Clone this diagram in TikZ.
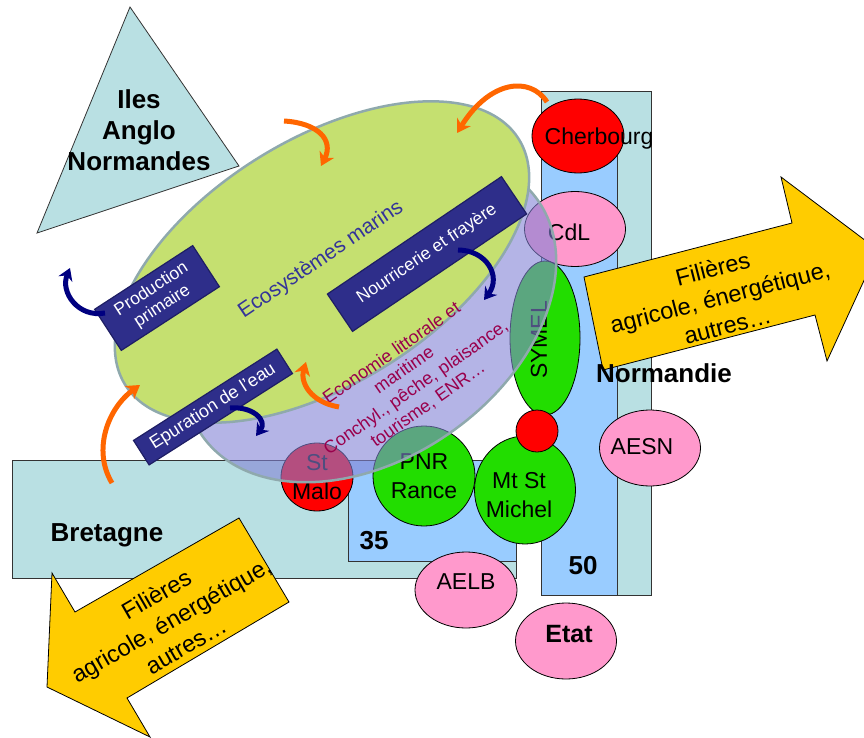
\documentclass[tikz,border=0pt]{standalone}
\usepackage{fontspec}
\setmainfont{Liberation Sans}
\usetikzlibrary{shapes.geometric,arrows.meta}
\definecolor{cyanpale}{RGB}{185,224,227}
\definecolor{bleudep}{RGB}{153,204,255}
\definecolor{vertmer}{RGB}{197,224,112}
\definecolor{bordmer}{RGB}{143,169,173}
\definecolor{lavande}{RGB}{130,130,213}
\definecolor{marine}{RGB}{46,46,138}
\definecolor{marinebord}{RGB}{30,30,100}
\definecolor{vertvif}{RGB}{34,221,0}
\definecolor{rose}{RGB}{255,153,204}
\definecolor{jaune}{RGB}{255,204,0}
\definecolor{orangeflux}{RGB}{255,102,0}
\definecolor{navyflux}{RGB}{0,0,128}
\definecolor{bordeaux}{RGB}{153,0,76}
\definecolor{bleutexte}{RGB}{51,51,153}
\begin{document}
\begin{tikzpicture}[x=1pt,y=-1pt]
				\tikzstyle{Zone} = [draw=black!80, line width=0.8, fill=cyanpale]
				\tikzstyle{Dept} = [draw=black!80, line width=0.8, fill=bleudep]
				\tikzstyle{Filiere} = [draw, line width=0.8, fill=jaune]
				\tikzstyle{Titre} = [inner sep=0pt, align=center, font=\bfseries\fontsize{26}{31}\selectfont]
				\tikzstyle{Acteur} = [ellipse, draw, line width=0.8, inner sep=0pt]
				\tikzstyle{Nom} = [inner sep=0pt, align=center, font=\fontsize{23}{29}\selectfont]
				\tikzstyle{Milieu} = [ellipse, draw=bordmer, line width=2.5, inner sep=0pt]
				\tikzstyle{Fonction} = [draw=marinebord, line width=1.2, fill=marine, text=white, inner sep=0pt, align=center]
				\tikzstyle{Apport} = [draw=orangeflux, line width=5, -{Stealth[length=13pt,width=16pt,inset=4pt]}]
				\tikzstyle{Retour} = [draw=navyflux, line width=5, -{Stealth[length=12pt,width=15pt,inset=4pt]}]
				\useasboundingbox (0,0) rectangle (864,738);
				\clip (0,0) rectangle (864,738);
				% territoires
				\draw [Zone] (130,7) -- (239,166) -- (37,233) -- cycle;
				\node (iles) at (139,130) [Titre] {Iles\\Anglo\\Normandes};
				\draw [Zone] (12,460) rectangle (516,578);
				\draw [Dept] (348,460) rectangle (516,561);
				\draw [Zone] (541,91) rectangle (651,595);
				\draw [Dept] (541,130) rectangle (617,595);
				\node (bretagne) at (107,535) [Titre] {Bretagne};
				\node (d35) at (374,541) [Titre] {35};
				\node (d50) at (583,566) [Titre] {50};
				% filieres
				\draw [Filiere] (584,277) -- (792,223) -- (781,177) -- (878,250) -- (827,361) -- (815,315) -- (603,370) -- cycle;
				\node (filnord) at (720,297) [Nom, rotate=14.5, font=\fontsize{23.5}{29.5}\selectfont] {Filières\\agricole, énergétique,\\autres…};
				\draw [Filiere] (239,518) -- (289,602) -- (127,698) -- (150,737) -- (47,687) -- (52,573) -- (75,612) -- cycle;
				\node (filsud) at (171,620) [Nom, rotate=30, font=\fontsize{23.5}{29.5}\selectfont] {Filières\\agricole, énergétique,\\autres…};
				\node (normandie) at (664,373) [Titre] {Normandie};
				% acteurs
				\node (cherbourg) at (578,136) [Acteur, fill=red, minimum width=92, minimum height=74] {};
				\node (cherbourgtxt) at (599,139) [Nom] {Cherbourg};
				\node (cdl) at (575,229) [Acteur, fill=rose, minimum width=101, minimum height=75] {};
				\node (cdltxt) at (569,232) [Nom] {CdL};
				\node (symel) at (545,338) [Acteur, fill=vertvif, minimum width=70, minimum height=154] {};
				\node (symeltxt) at (539,340) [Nom, rotate=90] {SYMEL};
				\node (mtstmichel) at (525,490) [Acteur, fill=vertvif, minimum width=101, minimum height=108] {};
				\node (mtstmicheltxt) at (519,495) [Nom] {Mt St\\Michel};
				\node (baie) at (537,431) [Acteur, fill=red, minimum size=42] {};
				\node (pnr) at (424,476) [Acteur, fill=vertvif, minimum width=102, minimum height=100, Nom] {PNR\\Rance};
				\node (stmalo) at (317,477) [Acteur, fill=red, minimum width=72, minimum height=68, Nom] {St\\Malo};
				\node (aelb) at (466,590) [Acteur, fill=rose, minimum width=102, minimum height=76] {};
				\node (aelbtxt) at (466,582) [Nom] {AELB};
				\node (etat) at (566,641) [Acteur, fill=rose, minimum width=101, minimum height=76] {};
				\node (etattxt) at (569,634) [Nom, font=\bfseries\fontsize{25}{30}\selectfont] {Etat};
				\node (aesn) at (650,448) [Acteur, fill=rose, minimum width=101, minimum height=76] {};
				\node (aesntxt) at (642,447) [Nom] {AESN};
				% milieux
				\node (economie) at (370,318) [Milieu, fill=lavande, fill opacity=0.6, minimum width=410, minimum height=280, rotate=35] {};
				\node (ecosys) at (322,262) [Milieu, fill=vertmer, minimum width=464, minimum height=244, rotate=32] {};
				\node (ecosystxt) at (321,260) [rotate=34, text=bleutexte, font=\fontsize{21}{25}\selectfont] {Ecosystèmes marins};
				\node (economietxt) at (410,379) [rotate=35, text=bordeaux, align=center, font=\fontsize{18}{21}\selectfont] {Economie littorale et\\maritime\\Conchyl., pêche, plaisance,\\tourisme, ENR…};
				\node (production) at (157,298) [Fonction, minimum width=117, minimum height=49, rotate=33, font=\fontsize{17.5}{20}\selectfont] {Production\\primaire};
				\node (nourricerie) at (427,254) [Fonction, minimum width=210, minimum height=45, rotate=34, font=\fontsize{17.5}{20}\selectfont] {Nourricerie et frayère};
				\node (epuration) at (213,407) [Fonction, minimum width=170, minimum height=29, rotate=32.5, font=\fontsize{18}{20}\selectfont] {Epuration de l’eau};
				% flux
				\coordinate (o1) at (284,121);
				\coordinate (o1t) at (321,166);
				\coordinate (o2) at (547,102);
				\coordinate (o2t) at (457,133);
				\coordinate (o3) at (112,483);
				\coordinate (o3t) at (140,385);
				\coordinate (o4) at (339,407);
				\coordinate (o4t) at (306,362);
				\coordinate (n1) at (105,313);
				\coordinate (n1t) at (70,268);
				\coordinate (n2) at (458,250);
				\coordinate (n2t) at (484,300);
				\coordinate (n3) at (230,408);
				\coordinate (n3t) at (256,436);
				\draw [Apport] (o1) .. controls +(34,2) and +(13,-26) .. (o1t);
				\draw [Apport] (o2) .. controls +(-17,-26) and +(33,-53) .. (o2t);
				\draw [Apport] (o3) .. controls +(-20,-33) and +(-32,23) .. (o3t);
				\draw [Apport] (o4) .. controls +(-29,-5) and +(-6,20) .. (o4t);
				\draw [Retour] (n1) .. controls +(-27,5) and +(-10,24) .. (n1t);
				\draw [Retour] (n2) .. controls +(28,0) and +(18,-24) .. (n2t);
				\draw [Retour] (n3) .. controls +(22,-2) and +(12,-16) .. (n3t);
			\end{tikzpicture}
\end{document}
